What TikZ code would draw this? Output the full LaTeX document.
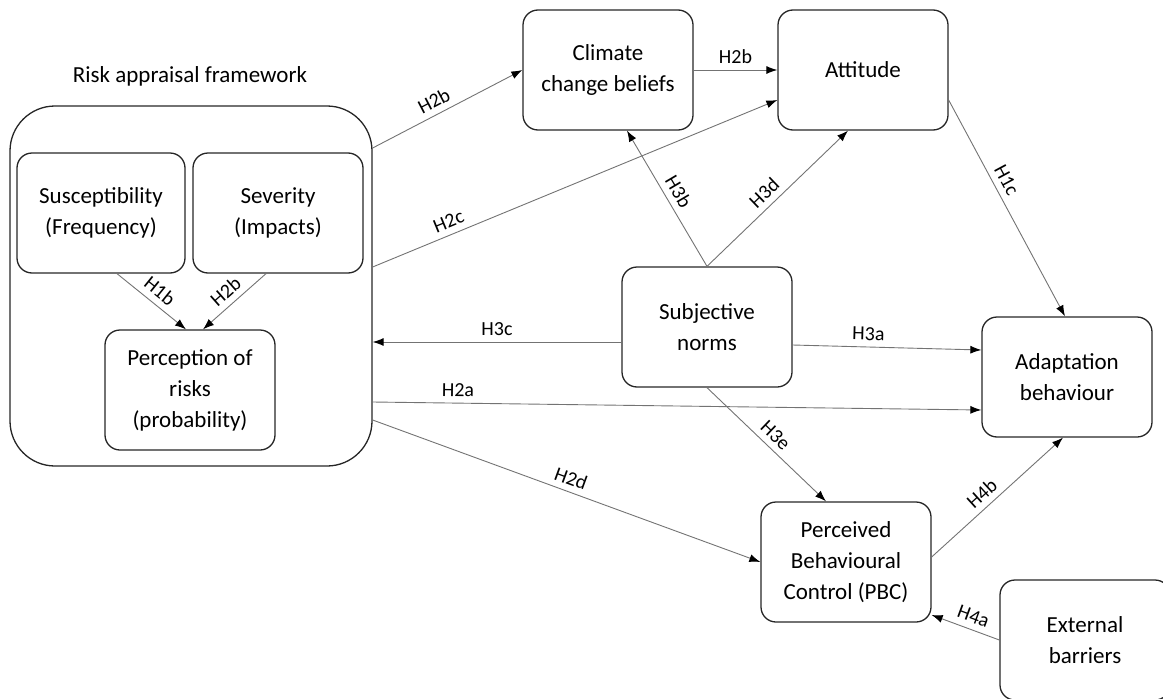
\documentclass[tikz,border=0pt]{standalone}
\usepackage{fontspec}
\setmainfont{Carlito}
\usepackage{tikz}
\usetikzlibrary{arrows.meta,positioning}

\begin{document}
\begin{tikzpicture}[
    x=1pt, y=-1pt,
    factor/.style={
      rectangle,
      draw=black!85,
      line width=1.3pt,
      rounded corners=15pt,
      minimum width=170pt,
      minimum height=120pt,
      align=center,
      font=\fontsize{23}{31}\selectfont
    },
    hyp/.style={
      -{Latex[length=11pt,width=8pt,color=black]},
      draw=black!55,
      line width=0.9pt
    },
    tag/.style={
      font=\fontsize{20}{24}\selectfont,
      sloped,
      above,
      inner sep=6pt
    }
  ]
  \useasboundingbox (0,0) rectangle (1163,699);

  \node[factor, minimum width=362pt, minimum height=360pt, rounded corners=45pt] (risk) at (191,286) {};
  \node[font=\fontsize{23}{28}\selectfont] (frame) at (190,76) {Risk appraisal framework};
  \node[factor, minimum width=168pt] (sus) at (101,213) {Susceptibility\\(Frequency)};
  \node[factor] (sev) at (278,213) {Severity\\(Impacts)};
  \node[factor] (perc) at (190,390) {Perception of\\risks\\(probability)};

  \node[factor] (clim) at (608,70) {Climate\\change beliefs};
  \node[factor] (att) at (863,70) {Attitude};
  \node[factor] (subj) at (707,327) {Subjective\\norms};
  \node[factor] (adapt) at (1067,377) {Adaptation\\behaviour};
  \node[factor] (pbc) at (846,562) {Perceived\\Behavioural\\Control (PBC)};
  \node[factor] (ext) at (1085,640) {External\\barriers};

  \draw[hyp] (sus.south) ++(16pt,0) -- ([xshift=-4pt]perc.north) node[tag, pos=0.5] {H1b};
  \draw[hyp] ([xshift=-12pt]sev.south) -- ([xshift=13pt]perc.north) node[tag, pos=0.5] {H2b};

  \draw[hyp] ([yshift=138pt]risk.east) -- (clim.west) node[tag, pos=0.45] {H2b};
  \draw[hyp] (clim.east) -- (att.west) node[tag, pos=0.5] {H2b};
  \draw[hyp] ([yshift=19pt]risk.east) -- ([yshift=-30pt]att.west) node[tag, pos=0.2] {H2c};
  \draw[hyp] (subj.north) -- ([xshift=19pt]clim.south) node[tag, pos=0.5] {H3b};
  \draw[hyp] (subj.north) -- ([xshift=-15pt]att.south) node[tag, pos=0.47] {H3d};
  \draw[hyp] ([yshift=-30pt]att.east) -- ([xshift=-2pt]adapt.north) node[tag, pos=0.4] {H1c};
  \draw[hyp] ([yshift=-15pt]subj.west) -- ([yshift=-56pt]risk.east) node[tag, pos=0.5] {H3c};
  \draw[hyp] ([yshift=-18pt]subj.east) -- ([yshift=27pt]adapt.west) node[tag, pos=0.4] {H3a};
  \draw[hyp] ([yshift=-116pt]risk.east) -- ([yshift=-33pt]adapt.west) node[tag, pos=0.14] {H2a};
  \draw[hyp] (subj.south) -- ([xshift=-20pt]pbc.north) node[tag, pos=0.5] {H3e};
  \draw[hyp] ([yshift=-134pt]risk.east) -- (pbc.west) node[tag, pos=0.5] {H2d};
  \draw[hyp] ([yshift=5pt]pbc.east) -- ([xshift=-4pt]adapt.south) node[tag, pos=0.45] {H4b};
  \draw[hyp] (ext.west) -- ([yshift=-53pt]pbc.east) node[tag, pos=0.45] {H4a};
\end{tikzpicture}
\end{document}
